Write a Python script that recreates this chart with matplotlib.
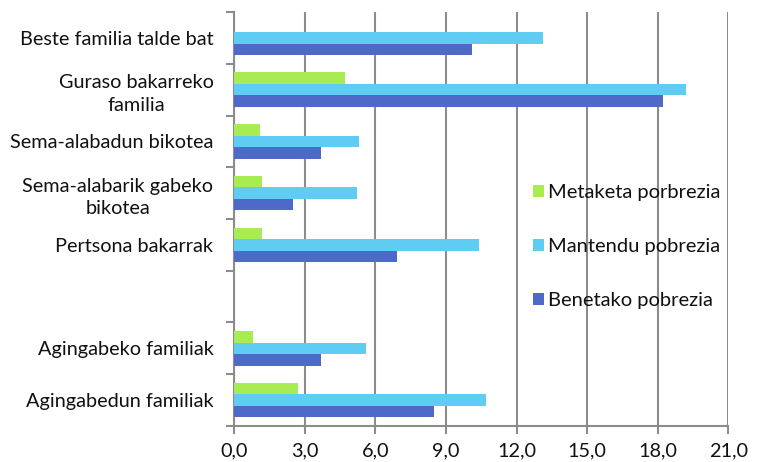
import numpy as np
import matplotlib
matplotlib.use("Agg")
import matplotlib.pyplot as plt
from matplotlib.ticker import FuncFormatter

plt.rcParams["font.family"] = ["Lato", "DejaVu Sans"]

categories = [
    "Beste familia talde bat",
    "Guraso bakarreko\nfamilia",
    "Sema-alabadun bikotea",
    "Sema-alabarik gabeko\nbikotea",
    "Pertsona bakarrak",
    "",
    "Agingabeko familiak",
    "Agingabedun familiak",
]
benetako = [10.1, 18.2, 3.7, 2.5, 6.9, 0.0, 3.7, 8.5]
mantendu = [13.1, 19.2, 5.3, 5.2, 10.4, 0.0, 5.6, 10.7]
metaketa = [0.0, 4.7, 1.1, 1.2, 1.2, 0.0, 0.8, 2.7]

series = ["Metaketa porbrezia", "Mantendu pobrezia", "Benetako pobrezia"]
colors = ["#a9eb52", "#5fcdf3", "#4f69c9"]
xticks = np.arange(0, 21.1, 3)

fig = plt.figure(figsize=(7.58, 4.62), dpi=100)
ax = fig.add_axes([0.309, 0.078, 0.652, 0.896])

y = np.arange(len(categories))
h = 1 / 4.5
ax.barh(y - h, metaketa, height=h, color=colors[0], label=series[0], zorder=3)
ax.barh(y, mantendu, height=h, color=colors[1], label=series[1], zorder=3)
ax.barh(y + h, benetako, height=h, color=colors[2], label=series[2], zorder=3)

ax.set_xlim(0, 21)
ax.set_ylim(len(categories) - 0.5, -0.5)
ax.set_xticks(xticks)
ax.xaxis.set_major_formatter(FuncFormatter(lambda v, p: f"{v:.1f}".replace(".", ",")))
ax.grid(axis="x", color="#8c8c8c", linewidth=1.5, zorder=0)

ax.set_yticks(np.arange(-0.5, len(categories), 1))
ax.set_yticklabels([])
ax.set_yticks(y, minor=True)
ax.set_yticklabels(categories, minor=True, multialignment="center", linespacing=1.4)
ax.tick_params(axis="y", which="minor", length=0, pad=15)
ax.tick_params(axis="y", which="major", length=6, color="#8c8c8c", width=1.5)
ax.tick_params(axis="x", length=6, color="#8c8c8c", width=1.5, pad=6)
ax.tick_params(which="both", labelsize=14.3, labelcolor="#111111")

for s in ["top", "right"]:
    ax.spines[s].set_visible(False)
for s in ["left", "bottom"]:
    ax.spines[s].set_color("#8c8c8c")
    ax.spines[s].set_linewidth(1.5)

ax.legend(loc="center left", bbox_to_anchor=(0.567, 0.433), frameon=False,
          fontsize=14.5, handlelength=0.55, handleheight=0.55,
          labelspacing=1.85, handletextpad=0.2, labelcolor="#111111")

fig.savefig("out.png", dpi=100)
